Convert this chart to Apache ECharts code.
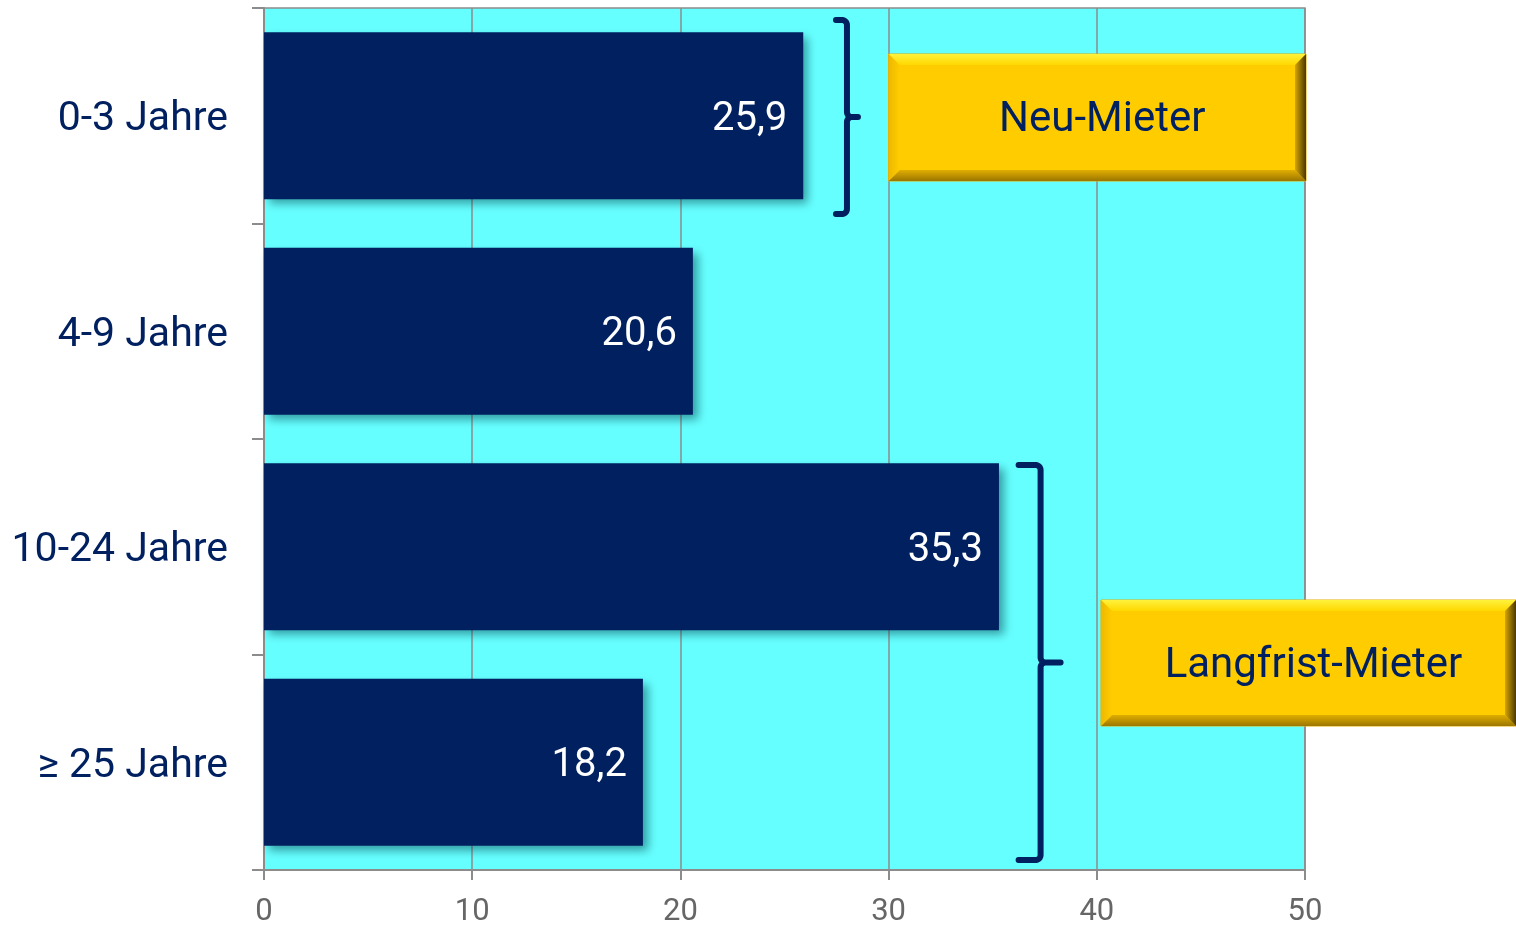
<!DOCTYPE html>
<html>
<head>
<meta charset="utf-8">
<script src="https://cdn.jsdelivr.net/npm/echarts@6/dist/echarts.min.js"></script>
<style>
html,body{margin:0;padding:0;background:#fff;}
#c{width:1516px;height:926px;}
</style>
</head>
<body>
<div id="c"></div>
<script>
const categories = ['0-3 Jahre', '4-9 Jahre', '10-24 Jahre', '≥ 25 Jahre'];
const values = [25.9, 20.6, 35.3, 18.2];
const xTicks = [0, 10, 20, 30, 40, 50];
const groupLabels = ['Neu-Mieter', 'Langfrist-Mieter'];

const NAVY = '#002060';
const chart = echarts.init(document.getElementById('c'), null, {renderer: 'canvas'});

chart.setOption({
  animation: false,
  grid: {left: 264, right: 211, top: 8, bottom: 56, show: true, outerBoundsMode: 'none', containLabel: false,
         backgroundColor: '#66FFFF', borderColor: '#8c8c8c', borderWidth: 1.5},
  xAxis: {
    type: 'value', min: 0, max: 50, interval: 10,
    axisLine: {show: true, lineStyle: {color: '#8c8c8c', width: 2}},
    axisTick: {show: true, length: 10, lineStyle: {color: '#8c8c8c', width: 2}},
    splitLine: {show: true, lineStyle: {color: '#8c8c8c', width: 1.5}},
    axisLabel: {color: '#666666', fontSize: 31, fontFamily: 'Roboto', margin: 27,
                formatter: v => xTicks.includes(v) ? String(v) : ''}
  },
  yAxis: {
    type: 'category', data: categories, inverse: true,
    axisLine: {show: true, lineStyle: {color: '#8c8c8c', width: 2}},
    axisTick: {show: true, length: 12, lineStyle: {color: '#8c8c8c', width: 2}},
    axisLabel: {margin: 36, formatter: v => '{a|' + v + '}',
                rich: {a: {color: NAVY, fontSize: 41, fontFamily: 'Roboto', padding: [8, 0, 0, 0]}}}
  },
  series: [{
    type: 'bar', data: values, barWidth: '77.5%',
    itemStyle: {color: NAVY, shadowColor: 'rgba(0,60,70,0.5)', shadowBlur: 9,
                shadowOffsetX: 5, shadowOffsetY: 5},
    label: {show: true, position: 'insideRight', distance: 16, color: '#ffffff',
            fontSize: 40, fontFamily: 'Roboto', offset: [0, 4],
            formatter: p => String(p.value).replace('.', ',')}
  }]
});

function px(x, y) { return chart.convertToPixel({gridIndex: 0}, [x, y]); }

function arcPts(cx, cy, r, a0, a1) {
  const pts = [];
  for (let i = 0; i <= 8; i++) {
    const a = a0 + (a1 - a0) * i / 8;
    pts.push([cx + r * Math.cos(a), cy + r * Math.sin(a)]);
  }
  return pts;
}

function brace(xv, yTop, yBot, hook, nub) {
  const x = px(xv, 0)[0];
  const ym = (yTop + yBot) / 2;
  const r = 5, P = Math.PI;
  const pts = [[x - hook, yTop]]
    .concat(arcPts(x - r, yTop + r, r, -P / 2, 0))
    .concat(arcPts(x + r, ym - r, r, P, P / 2))
    .concat([[x + nub, ym]])
    .concat(arcPts(x + r, ym + r, r, -P / 2, -P))
    .concat(arcPts(x - r, yBot - r, r, 0, P / 2))
    .concat([[x - hook, yBot]]);
  return {
    type: 'polyline', z: 100,
    shape: {points: pts},
    style: {stroke: NAVY, lineWidth: 6, fill: null, lineCap: 'round', lineJoin: 'round'}
  };
}

function lg(c1, c2, vert) {
  return {type: 'linear', x: 0, y: 0, x2: vert ? 0 : 1, y2: vert ? 1 : 0,
          colorStops: [{offset: 0, color: c1}, {offset: 1, color: c2}]};
}

function bevelBox(x, y, w, h, text) {
  const b = 11;
  return {
    type: 'group', z: 110,
    children: [
      {type: 'rect', shape: {x, y, width: w, height: h}, style: {fill: '#FFCC00', stroke: '#E3AE00', lineWidth: 1}},
      {type: 'polygon', shape: {points: [[x, y], [x + w, y], [x + w - b, y + b], [x + b, y + b]]}, style: {fill: lg('#FFF23C', '#FFD800', true)}},
      {type: 'polygon', shape: {points: [[x, y + h], [x + w, y + h], [x + w - b, y + h - b], [x + b, y + h - b]]}, style: {fill: lg('#E0AE00', '#9C7600', true)}},
      {type: 'polygon', shape: {points: [[x, y], [x + b, y + b], [x + b, y + h - b], [x, y + h]]}, style: {fill: lg('#EDB800', '#FFCC00', false)}},
      {type: 'polygon', shape: {points: [[x + w, y], [x + w - b, y + b], [x + w - b, y + h - b], [x + w, y + h]]}, style: {fill: lg('#D7A600', '#4a3800', false)}},
      {type: 'text', x: x + w / 2 + 5, y: y + h / 2 + 3, style: {text, fill: NAVY, fontSize: 42, fontFamily: 'Roboto', align: 'center', verticalAlign: 'middle'}}
    ]
  };
}

const b1x = px(30, 0)[0], b1r = px(50, 0)[0];
const b2x = px(40.2, 0)[0];
chart.setOption({
  graphic: [
    brace(28, 20, 214, 11, 11),
    brace(37.3, 465, 860, 22, 20),
    bevelBox(b1x, 54, b1r - b1x + 1, 127, groupLabels[0]),
    bevelBox(b2x, 600, 1516 - b2x, 126, groupLabels[1])
  ]
});
</script>
</body>
</html>
